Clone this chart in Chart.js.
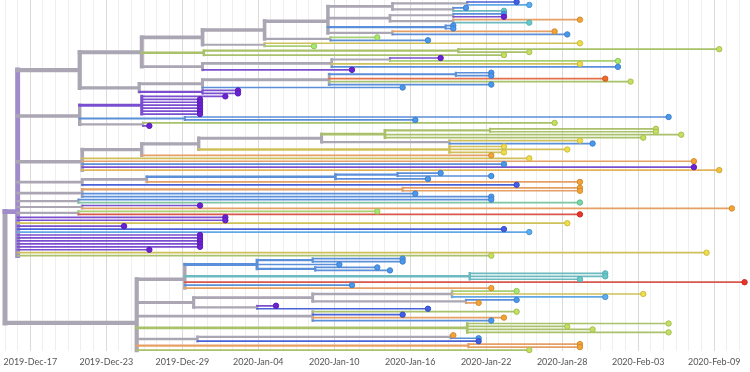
<!DOCTYPE html>
<html><head><meta charset="utf-8">
<script src="https://cdn.jsdelivr.net/npm/chart.js@4"></script>
<style>html,body{margin:0;padding:0;background:#fff;overflow:hidden}#wrap{width:750px;height:372px}</style>
</head><body><div id="wrap"><canvas id="c"></canvas></div>
<script>
// x axis: days since 2019-Dec-17
const tickDays = [0, 6, 12, 18, 24, 30, 36, 42, 48, 54];
const tickLabels = ['2019-Dec-17','2019-Dec-23','2019-Dec-29','2020-Jan-04','2020-Jan-10','2020-Jan-16','2020-Jan-22','2020-Jan-28','2020-Feb-03','2020-Feb-09'];

// Tree clades. Tip: [day, region]; inner node: [day, [children], region?]
const cladeA1 = [3.9, [
  [8.8, [
    [13.6, [
      [18.5, [
        [23.5, [
          [28.6, [[34.5, [[38.4,'db'],[39.4,'lb']]], [33.4, [[34.4,'bl'],[37.4,'te']]]]],
          [28.4, [[33.4, [[37.4,'bl'],[37.4,'pu']]], [33.4, [[43.4,'or'],[39.4,'te']]]]],
          [32.8, [[33.4,'bl'],[33.4,'bl']]],
          [28.6, [[41.4,'or'],[42.4,'bl']]]
        ]],
        [23.7, [[27.4,'lg'],[31.4,'bl']]]
      ]],
      [18.5, [[43.4,'ye'],[22.4,'lg']]]
    ]],
    [13.7, [[33.8, [[54.4,'gr'],[39.4,'gr']]], [37.4,'gr']]],
    [13.6, [[23.8, [[28.4, [[32.4,'pu'],[46.4,'lg']]], [43.4,'ye'], [46.4,'bl']]], [25.4,'pu']]]
  ]],
  [8.6, [
    [13.6, [[23.6, [[33.6, [[36.4,'bl'],[36.4,'bl']]], [45.4,'ro'], [47.4,'gr'], [36.4,'bl']]], [29.4,'bl']]],
    [13.6, [[16.4,'pu'],[16.4,'pu']]]
  ]]
]];
const cladeK = [3.9, [
  [8.8, [[15.4,'pu'],[13.4,'pu'],[13.4,'pu'],[13.4,'pu'],[13.4,'pu'],[13.4,'pu'],[13.4,'pu']]],
  [12.2, [[50.4,'bl'],[30.4,'bl']]],
  [8.9, [[41.4,'gr'],[9.4,'pu']]]
]];
const cladeL = [4.1, [
  [8.8, [
    [13.3, [
      [23.0, [
        [28.0, [[36.3, [[49.4,'gr'],[49.4,'gr']]], [51.4,'gr'], [48.4,'gr']]],
        [33.1, [[43.4,'ye'],[44.4,'bl']]]
      ]],
      [33.1, [[37.4,'ye'],[42.4,'ye'],[37.4,'ye']]]
    ]],
    [36.4,'or']
  ]],
  [39.4,'ye'], [52.4,'or'], [37.4,'bl'], [52.4,'pu'], [54.4,'oy']
]];
const cladeM = [4.1, [
  [9.2, [[24.1, [[29.0, [[32.4,'bl'],[36.4,'bl']]], [31.4,'bl']]], [43.4,'or']]],
  [38.4,'db']
]];
const cladeN = [4.1, [[29.4, [[43.4,'or'],[43.4,'or']]], [30.4,'bl'], [36.4,'bl']]];
const cladeO = [3.8, [[36.4,'bl'],[43.4,'tg']]];
const cladeP = [4.1, [[13.4,'pu'],[55.4,'or']]];
const cladeQ = [3.8, [[27.4,'lg'],[43.4,'re']]];
const cladeATips = [[15.4,'pu'],[15.4,'pu'],[42.4,'ye'],[7.4,'pu'],[37.4,'db'],[39.4,'lb'],
  [13.4,'pu'],[13.4,'pu'],[13.4,'pu'],[13.4,'pu'],[13.4,'pu'],[9.4,'pu'],[53.4,'ye'],[36.4,'gr']];
const cladeB = [8.4, [
  [12.2, [
    [17.9, [[22.3, [[29.4,'bl'],[29.4,'bl']]], [24.4,'bl'], [22.5, [[27.4,'bl'],[28.4,'bl']]]]],
    [34.7, [[45.4,'te'],[45.4,'te'],[43.4,'te']]],
    [56.4,'re'], [25.4,'bl'], [36.4,'or']
  ]],
  [12.9, [
    [22.3, [[33.3, [[38.4,'lg'],[48.4,'ye'],[45.4,'lb']]], [34.4, [[38.4,'bl'],[35.4,'or']]]]],
    [17.9, [[19.4,'pu'],[31.4,'db']]]
  ]],
  [22.3, [[38.4,'gr'],[29.4,'db'],[37.4,'or'],[36.4,'bl']]],
  [34.5, [[50.4,'gr'],[42.4,'gr'],[44.4,'gr'],[50.4,'gr']]],
  [13.2, [[33.2, [[33.4,'or'],[35.4,'bl']]], [35.4,'db']]],
  [34.6, [[43.4,'or'],[43.4,'or']]],
  [39.4,'gr']
]];
const rootDay = -2.0;
const cladeADay = -1.0;

// ---- styles ----
const lineColors = {gray:'#aba6b3', pa:'#a08ccb', pu:'#7a4fcf', db:'#4a62d8', bl:'#5b8fd9', lb:'#62a8e6',
  te:'#6cb9bf', gr:'#a9c16a', lg:'#a8cf72', tg:'#7ec6a4', ye:'#cfc05a', or:'#e6a065', oy:'#e3b45a',
  ro:'#e5714a', re:'#d9574b'};
const dotColors = {pu:'#6a22d4', db:'#3f5de6', bl:'#4a97ee', lb:'#58aef2', te:'#66c9cc', gr:'#c3e060',
  lg:'#a9e86f', tg:'#78d8a8', ye:'#f0dd4a', or:'#f5a335', oy:'#f2c23e', ro:'#f06a2a', re:'#e8342a'};
function darken(hex, f) {
  const n = parseInt(hex.slice(1), 16);
  const r = Math.round(((n >> 16) & 255) * f), g = Math.round(((n >> 8) & 255) * f), b = Math.round((n & 255) * f);
  return 'rgb(' + r + ',' + g + ',' + b + ')';
}

// ---- layout ----
const tree = [rootDay, [[cladeADay, [cladeA1, cladeK, cladeL, cladeM, cladeN, cladeO, cladeP, cladeQ, ...cladeATips], 'pa'], cladeB]];
let tipIdx = 0;
const nodes = [];
function layout(n, parentDay) {
  const node = {day: n[0], parentDay: parentDay};
  if (Array.isArray(n[1])) {
    node.children = n[1].map(c => layout(c, n[0]));
    node.y = node.children.reduce((s, c) => s + c.y, 0) / node.children.length;
    node.tips = node.children.reduce((s, c) => s + c.tips, 0);
    const r0 = node.children[0].region;
    node.region = n[2] || (node.children.every(c => c.region === r0) ? r0 : 'gray');
  } else {
    node.y = tipIdx++; node.tips = 1; node.region = n[1]; node.tip = true;
  }
  nodes.push(node);
  return node;
}
layout(tree, null);
const nTips = tipIdx;

const groups = {};
function addSeg(color, w, x1, y1, x2, y2) {
  const k = color + '|' + w.toFixed(2);
  if (!groups[k]) groups[k] = {color, w, data: []};
  groups[k].data.push({x: x1, y: y1}, {x: x2, y: y2}, {x: x2, y: null});
}
nodes.forEach(nd => {
  const w = Math.min(5, 1.7 + 0.5 * Math.log2(nd.tips));
  const col = lineColors[nd.region] || lineColors.gray;
  if (nd.children) {
    const ys = nd.children.map(c => c.y);
    addSeg(col, w, nd.day, Math.min(...ys), nd.day, Math.max(...ys));
  }
  if (nd.parentDay !== null) addSeg(col, w, nd.parentDay, nd.y, nd.day, nd.y);
});

const datasets = [];
const tipNodes = nodes.filter(n => n.tip);
datasets.push({
  type: 'scatter', order: 0, clip: false,
  data: tipNodes.map(n => ({x: n.day, y: n.y})),
  pointRadius: 2.7, pointBorderWidth: 1,
  pointBackgroundColor: tipNodes.map(n => dotColors[n.region]),
  pointBorderColor: tipNodes.map(n => darken(dotColors[n.region], 0.85))
});
Object.values(groups).sort((a, b) => a.w - b.w).forEach(g => {
  datasets.push({
    type: 'line', order: 1, clip: false, data: g.data, borderColor: g.color, borderWidth: g.w,
    pointRadius: 0, spanGaps: false, tension: 0, borderCapStyle: 'square', fill: false
  });
});

new Chart(document.getElementById('c'), {
  data: {datasets},
  options: {
    responsive: true, maintainAspectRatio: false, animation: false, events: [],
    layout: {padding: 0, autoPadding: false},
    plugins: {legend: {display: false}, tooltip: {enabled: false}, title: {display: false}},
    scales: {
      x: {
        type: 'linear', min: -2.37, max: 56.83,
        afterBuildTicks: ax => { const t = []; for (let d = -2; d <= 56; d++) t.push({value: d}); ax.ticks = t; },
        ticks: {
          autoSkip: false, maxRotation: 0, minRotation: 0, padding: 5,
          color: '#555555', font: {family: 'Lato, "Open Sans", sans-serif', size: 9},
          callback: v => { const i = tickDays.indexOf(v); return i >= 0 ? tickLabels[i] : ''; }
        },
        grid: {drawTicks: false, lineWidth: 1,
          color: c => tickDays.includes(c.tick && c.tick.value) ? '#dadada' : '#efefef'},
        border: {display: false}
      },
      y: {type: 'linear', reverse: true, display: false, min: -0.67, max: nTips - 1 + 0.39}
    }
  }
});
</script></body></html>
